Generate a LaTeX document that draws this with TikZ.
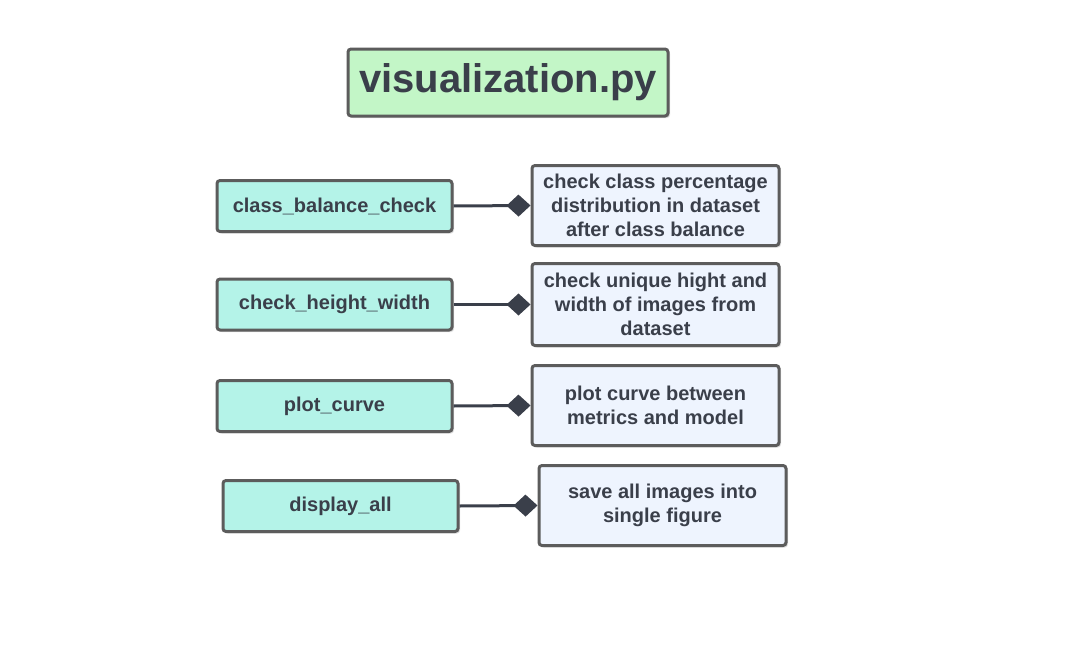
\documentclass[tikz,border=0pt]{standalone}
\usepackage{fontspec}
\setmainfont{Liberation Sans}
\usetikzlibrary{arrows.meta,positioning,shadows}
\definecolor{ctexto}{HTML}{3A3F4A}
\definecolor{cborde}{HTML}{5C5C5C}
\definecolor{ctitulo}{HTML}{C3F6C7}
\definecolor{cfuncion}{HTML}{B4F3E8}
\definecolor{cdesc}{HTML}{EEF4FE}
\tikzset{
  caja/.style={draw=cborde,line width=3pt,rounded corners=3pt,align=center,
               text=ctexto,inner sep=2pt,
               drop shadow={shadow xshift=2pt,shadow yshift=-2pt,opacity=0.25}},
  titulo/.style={caja,fill=ctitulo,minimum width=320pt,minimum height=67pt,
                 font=\fontsize{40}{44}\selectfont\bfseries},
  funcion/.style={caja,fill=cfuncion,minimum width=235pt,minimum height=51pt,
                  font=\fontsize{20}{24}\selectfont\bfseries},
  desc/.style={caja,fill=cdesc,minimum width=247pt,minimum height=80pt,
               font=\fontsize{20}{24}\selectfont\bfseries},
  enlace/.style={draw=ctexto,line width=3pt,
                 -{Diamond[length=24pt,width=22pt,line width=0pt]}},
}

\begin{document}
\begin{tikzpicture}[x=1pt,y=-1pt]
\useasboundingbox (0,0) rectangle (1079,653);

\node[titulo] (tit) at (508,82.5) {visualization.py};

\node[funcion] (f1) at (334.5,206) {class\_balance\_check};
\node[funcion] (f2) at (334.5,304.5) {check\_height\_width};
\node[funcion] (f3) at (334.5,406) {plot\_curve};
\node[funcion] (f4) at (340.5,506) {display\_all};

\node[desc] (d1) at (655.5,205.5) {check class percentage\\distribution in dataset\\after class balance};
\node[desc,minimum height=82pt] (d2) at (655.5,304.5) {check unique hight and\\width of images from\\dataset};
\node[desc] (d3) at (655.5,405.5) {plot curve between\\metrics and model};
\node[desc] (d4) at (662.5,505.5) {save all images into\\single figure};

\foreach \n in {1,2,3,4}{\draw[enlace] (f\n.east) -- (d\n.west);}

\end{tikzpicture}
\end{document}
